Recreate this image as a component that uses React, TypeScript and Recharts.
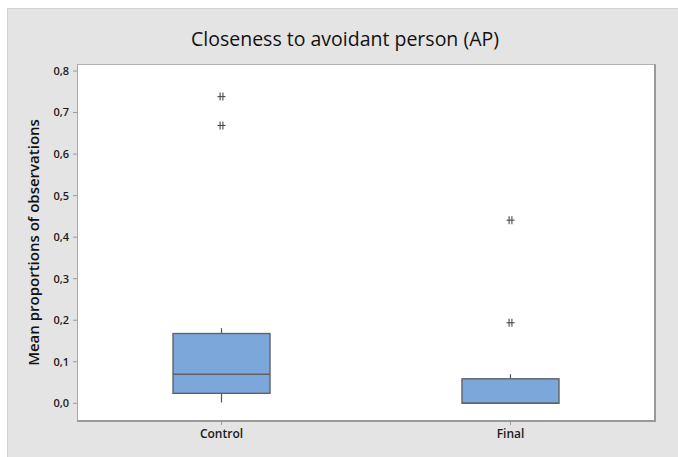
import React from "react";
import { ComposedChart, Bar, Scatter, XAxis, YAxis } from "recharts";

const groups = ["Control", "Final"];
const q1 = [0.024, 0.0];
const median = [0.07, 0.0];
const q3 = [0.168, 0.059];
const whiskerLow = [0.002, 0.0];
const whiskerHigh = [0.181, 0.07];
const outlierA = [0.7385, 0.441];
const outlierB = [0.669, 0.194];
const yTicks = [0, 0.1, 0.2, 0.3, 0.4, 0.5, 0.6, 0.7, 0.8];

const data = groups.map((g, i) => ({
  name: g,
  box: [q1[i], q3[i]],
  q1: q1[i],
  q3: q3[i],
  med: median[i],
  lo: whiskerLow[i],
  hi: whiskerHigh[i],
  o1: outlierA[i],
  o2: outlierB[i],
}));

const FONT = "'Segoe UI', 'Open Sans', 'Noto Sans', sans-serif";

const BoxShape = (props: any) => {
  const { x, y, width, height, payload } = props;
  const top = Math.min(y, y + height);
  const h = Math.abs(height);
  const range = payload.q3 - payload.q1;
  const k = range > 0 ? h / range : 0;
  const px = (v: number) => top + (payload.q3 - v) * k;
  const cx = x + width / 2;
  return (
    <g>
      <line x1={cx} x2={cx} y1={px(payload.hi)} y2={top} stroke="#555" strokeWidth={1.2} />
      <line x1={cx} x2={cx} y1={top + h} y2={px(payload.lo)} stroke="#555" strokeWidth={1.2} />
      <rect x={x} y={top} width={width} height={h} fill="#7ba7db" stroke="#5f6368" strokeWidth={1.4} />
      <line x1={x} x2={x + width} y1={px(payload.med)} y2={px(payload.med)} stroke="#5f6368" strokeWidth={1.4} />
    </g>
  );
};

const Star = (props: any) => {
  const { cx, cy } = props;
  if (cx == null || cy == null) return null;
  const s = 4;
  return (
    <g stroke="#4a4a4a" strokeWidth={1.1}>
      <line x1={cx - s} x2={cx + s} y1={cy} y2={cy} />
      <line x1={cx - 1.4} x2={cx - 1.4} y1={cy - s} y2={cy + s} />
      <line x1={cx + 1.4} x2={cx + 1.4} y1={cy - s} y2={cy + s} />
    </g>
  );
};

export default function App() {
  return (
    <div style={{ position: "absolute", left: 0, top: 0, width: 678, height: 457, background: "#fff", overflow: "hidden" }}>
      <div
        style={{
          position: "absolute",
          left: 7,
          top: 8,
          width: 671,
          height: 449,
          background: "#e4e4e4",
          borderTop: "1px solid #d2d2d2",
          borderLeft: "1px solid #d2d2d2",
          boxSizing: "border-box",
        }}
      />
      <div
        style={{
          position: "absolute",
          left: 77,
          top: 64,
          width: 579,
          height: 358,
          background: "#fff",
          borderTop: "1px solid #b0b0b0",
          borderLeft: "1px solid #a8a8a8",
          borderRight: "2px solid #9a9a9a",
          borderBottom: "2px solid #9a9a9a",
          boxSizing: "border-box",
        }}
      />
      <div
        style={{
          position: "absolute",
          left: 0,
          top: 25,
          width: 690,
          textAlign: "center",
          fontFamily: FONT,
          fontSize: 19.5,
          fontWeight: 500,
          color: "#111",
        }}
      >
        Closeness to avoidant person (AP)
      </div>
      <div style={{ position: "absolute", left: 0, top: 0 }}>
        <ComposedChart
          width={678}
          height={457}
          data={data}
          margin={{ top: 64, right: 23, bottom: 6, left: 37 }}
        >
          <XAxis
            dataKey="name"
            type="category"
            axisLine={false}
            tickLine={{ stroke: "#999" }}
            tickSize={4}
            tickMargin={4}
            height={30}
            tick={{ fill: "#1a1a1a", fontSize: 12, fontWeight: 600, fontFamily: FONT }}
          />
          <YAxis
            type="number"
            domain={[-0.0426, 0.817]}
            ticks={yTicks}
            allowDataOverflow
            axisLine={false}
            tickLine={{ stroke: "#999" }}
            tickSize={4}
            tickMargin={4}
            width={40}
            tickFormatter={(v: number) => v.toFixed(1).replace(".", ",")}
            tick={{ fill: "#1a1a1a", fontSize: 11, fontWeight: 600, fontFamily: FONT }}
            label={{
              value: "Mean proportions of observations",
              angle: -90,
              position: "insideLeft",
              dx: -8,
              dy: 0,
              style: { textAnchor: "middle", fill: "#111", fontSize: 15, fontWeight: 600, fontFamily: FONT },
            }}
          />
          <Bar dataKey="box" barSize={97} shape={BoxShape} isAnimationActive={false} />
          <Scatter dataKey="o1" shape={Star} isAnimationActive={false} />
          <Scatter dataKey="o2" shape={Star} isAnimationActive={false} />
        </ComposedChart>
      </div>
    </div>
  );
}
